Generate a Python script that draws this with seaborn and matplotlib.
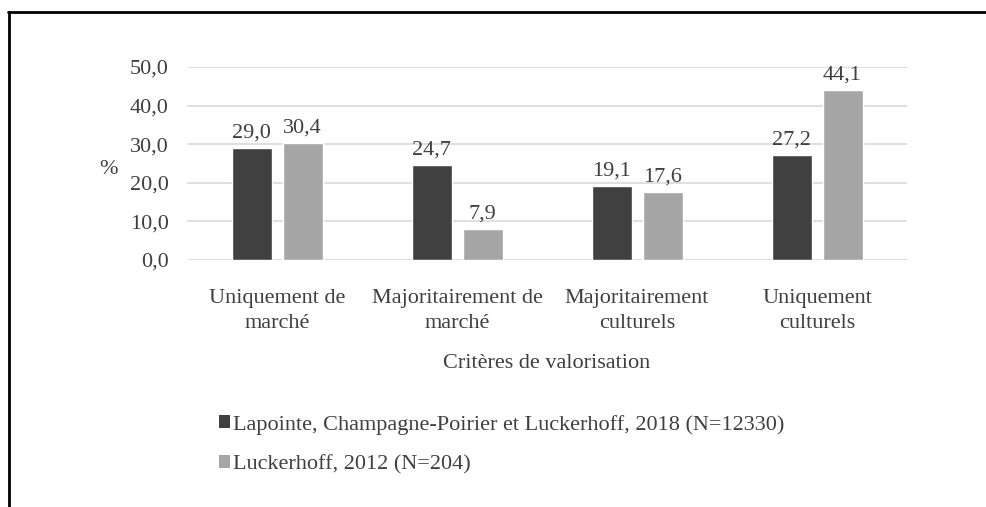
import matplotlib
matplotlib.use("Agg")
import matplotlib.pyplot as plt
from matplotlib.lines import Line2D
from matplotlib.patches import Patch
import seaborn as sns
import pandas as pd

categories = ["Uniquement de\nmarché", "Majoritairement de\nmarché",
              "Majoritairement\nculturels", "Uniquement\nculturels"]
series_names = ["Lapointe, Champagne-Poirier et Luckerhoff, 2018 (N=12330)",
                "Luckerhoff, 2012 (N=204)"]
values_2018 = [29.0, 24.7, 19.1, 27.2]
values_2012 = [30.4, 7.9, 17.6, 44.1]
y_ticks = [0, 10, 20, 30, 40, 50]
y_tick_labels = ["0,0", "10,0", "20,0", "30,0", "40,0", "50,0"]

colors = ["#404040", "#a6a6a6"]
text_color = "#3f3f3f"

sns.set_theme(style="white")
plt.rcParams["font.family"] = ["Liberation Serif", "DejaVu Serif"]
plt.rcParams["text.color"] = text_color
plt.rcParams["axes.labelcolor"] = text_color
plt.rcParams["xtick.color"] = text_color
plt.rcParams["ytick.color"] = text_color

df = pd.DataFrame({
    "cat": categories * 2,
    "val": values_2018 + values_2012,
    "src": [series_names[0]] * 4 + [series_names[1]] * 4,
})

fig = plt.figure(figsize=(9.86, 5.07), dpi=100)
ax = fig.add_axes([0.1897, 0.4872, 0.9199 - 0.1897, 0.8679 - 0.4872])

sns.barplot(data=df, x="cat", y="val", hue="src", order=categories,
            hue_order=series_names, palette=colors, width=0.567, gap=0.216,
            saturation=1, legend=False, ax=ax)

fs = 16
for cont in ax.containers:
    labels = [f"{b.get_height():.1f}".replace(".", ",") for b in cont]
    ax.bar_label(cont, labels=labels, padding=4, fontsize=fs, color=text_color)

ax.set_xlim(-0.5, 3.5)
ax.set_ylim(0, 50)
ax.set_yticks(y_ticks)
ax.set_yticklabels(y_tick_labels)
ax.tick_params(axis="y", length=0, pad=13, labelsize=fs)
ax.tick_params(axis="x", length=0, pad=21, labelsize=fs)
for lbl in ax.get_xticklabels():
    lbl.set_linespacing(1.42)
ax.yaxis.grid(True, color="#d9d9d9", linewidth=1.2)
ax.set_axisbelow(True)
for s in ax.spines.values():
    s.set_visible(False)

ax.set_xlabel("Critères de valorisation", fontsize=fs, labelpad=15)
ax.set_ylabel("%", fontsize=fs, rotation=0, va="center", ha="center")
ax.yaxis.set_label_coords(-0.109, 0.47)

handles = [Patch(facecolor=c, edgecolor="none") for c in colors]
fig.legend(handles, series_names, loc="upper left",
           bbox_to_anchor=(0.222, 0.182), frameon=False, fontsize=fs,
           handlelength=0.5, handleheight=0.5, handletextpad=0.15,
           labelspacing=0.92, borderpad=0, borderaxespad=0)

fig.add_artist(Line2D([0.0085, 1.0], [1 - 12 / 507, 1 - 12 / 507],
                      color="black", linewidth=2, transform=fig.transFigure))
fig.add_artist(Line2D([0.0095, 0.0095], [0.0, 1 - 12 / 507],
                      color="black", linewidth=2, transform=fig.transFigure))

fig.savefig("out.png", dpi=100, facecolor="white")
